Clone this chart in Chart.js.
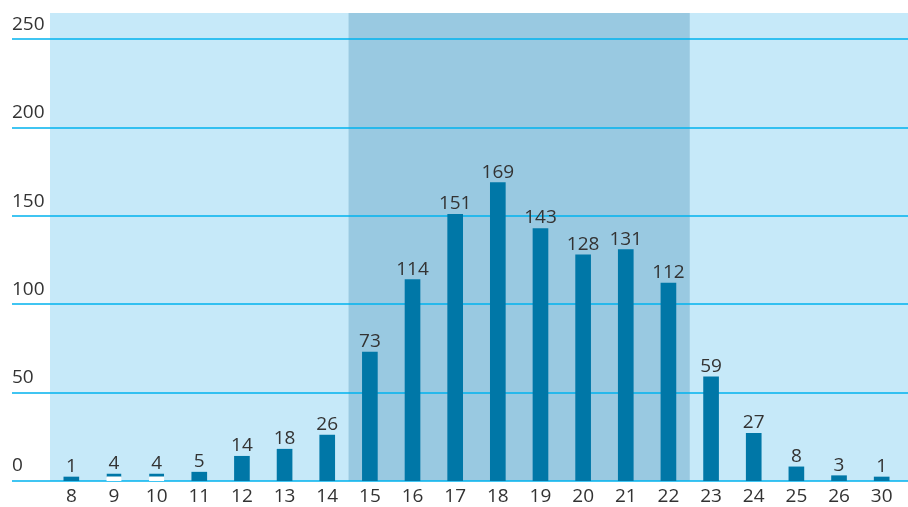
<!doctype html>
<html lang="en">
<head>
<meta charset="utf-8">
<title>Distribution</title>
<script src="https://cdn.jsdelivr.net/npm/chart.js"></script>
<style>
  html, body { margin: 0; padding: 0; background: #fff; }
  #wrap { width: 908px; height: 507px; }
</style>
</head>
<body>
<div id="wrap"><canvas id="chart"></canvas></div>
<script>
// categories and values
const categories = ['8', '9', '10', '11', '12', '13', '14', '15', '16', '17', '18', '19', '20', '21', '22', '23', '24', '25', '26', '30'];
const counts = [1, 4, 4, 5, 14, 18, 26, 73, 114, 151, 169, 143, 128, 131, 112, 59, 27, 8, 3, 1];
const yTicks = [0, 50, 100, 150, 200, 250];
// shaded band covers these categories
const bandFrom = '15';
const bandTo = '22';
// bars drawn hollow in the original
const hollow = ['9', '10'];

const barColor = '#0077a7';
const gridColor = '#00b2ee';
const textColor = '#333333';
const fontFamily = "'Open Sans', 'Noto Sans', sans-serif";
const fontSize = 19;

// background, shaded band and gridlines
const backdrop = {
  id: 'backdrop',
  beforeDatasetsDraw(chart) {
    const ctx = chart.ctx;
    const area = chart.chartArea;
    const x = chart.scales.x;
    const y = chart.scales.y;
    const step = x.getPixelForValue(1) - x.getPixelForValue(0);
    ctx.save();
    ctx.fillStyle = '#c6e9f9';
    ctx.fillRect(area.left, area.top, chart.width - area.left, area.bottom - area.top);
    const b0 = x.getPixelForValue(categories.indexOf(bandFrom)) - step / 2;
    const b1 = x.getPixelForValue(categories.indexOf(bandTo)) + step / 2;
    ctx.fillStyle = '#99c9e1';
    ctx.fillRect(b0, area.top, b1 - b0, area.bottom - area.top);
    ctx.strokeStyle = gridColor;
    ctx.lineWidth = 1.5;
    y.ticks.forEach(t => {
      const py = Math.round(y.getPixelForValue(t.value));
      ctx.beginPath();
      ctx.moveTo(y.left, py);
      ctx.lineTo(chart.width, py);
      ctx.stroke();
    });
    ctx.restore();
  }
};

// value labels above bars
const valueLabels = {
  id: 'valueLabels',
  afterDatasetsDraw(chart) {
    const ctx = chart.ctx;
    const meta = chart.getDatasetMeta(0);
    ctx.save();
    ctx.font = fontSize + 'px ' + fontFamily;
    ctx.fillStyle = textColor;
    ctx.textAlign = 'center';
    ctx.textBaseline = 'alphabetic';
    meta.data.forEach((bar, i) => {
      ctx.fillText(String(counts[i]), bar.x, bar.y - 5);
    });
    ctx.restore();
  }
};

new Chart(document.getElementById('chart'), {
  type: 'bar',
  data: {
    labels: categories,
    datasets: [{
      data: counts,
      backgroundColor: c => hollow.includes(categories[c.dataIndex]) ? '#ffffff' : barColor,
      borderColor: barColor,
      borderWidth: c => hollow.includes(categories[c.dataIndex]) ? { top: 3, left: 0, right: 0, bottom: 0 } : 0,
      borderSkipped: false,
      barThickness: 15,
      minBarLength: 4
    }]
  },
  options: {
    responsive: true,
    maintainAspectRatio: false,
    animation: false,
    layout: { padding: { top: 13, left: 12, right: 5, bottom: 0 } },
    plugins: {
      legend: { display: false },
      tooltip: { enabled: false }
    },
    scales: {
      x: {
        grid: { display: false, drawTicks: false },
        border: { display: false },
        ticks: {
          color: textColor,
          font: { size: fontSize, family: fontFamily },
          padding: 4,
          maxRotation: 0,
          autoSkip: false
        },
        afterFit(scale) { scale.height = 26; }
      },
      y: {
        min: 0,
        max: 265,
        grid: { display: false },
        border: { display: false },
        ticks: {
          stepSize: 50,
          color: textColor,
          font: { size: fontSize, family: fontFamily },
          crossAlign: 'far',
          labelOffset: -15,
          padding: 0
        },
        afterBuildTicks(scale) {
          scale.ticks = yTicks.map(v => ({ value: v }));
        },
        afterFit(scale) { scale.width = 38; }
      }
    }
  },
  plugins: [backdrop, valueLabels]
});
</script>
</body>
</html>
